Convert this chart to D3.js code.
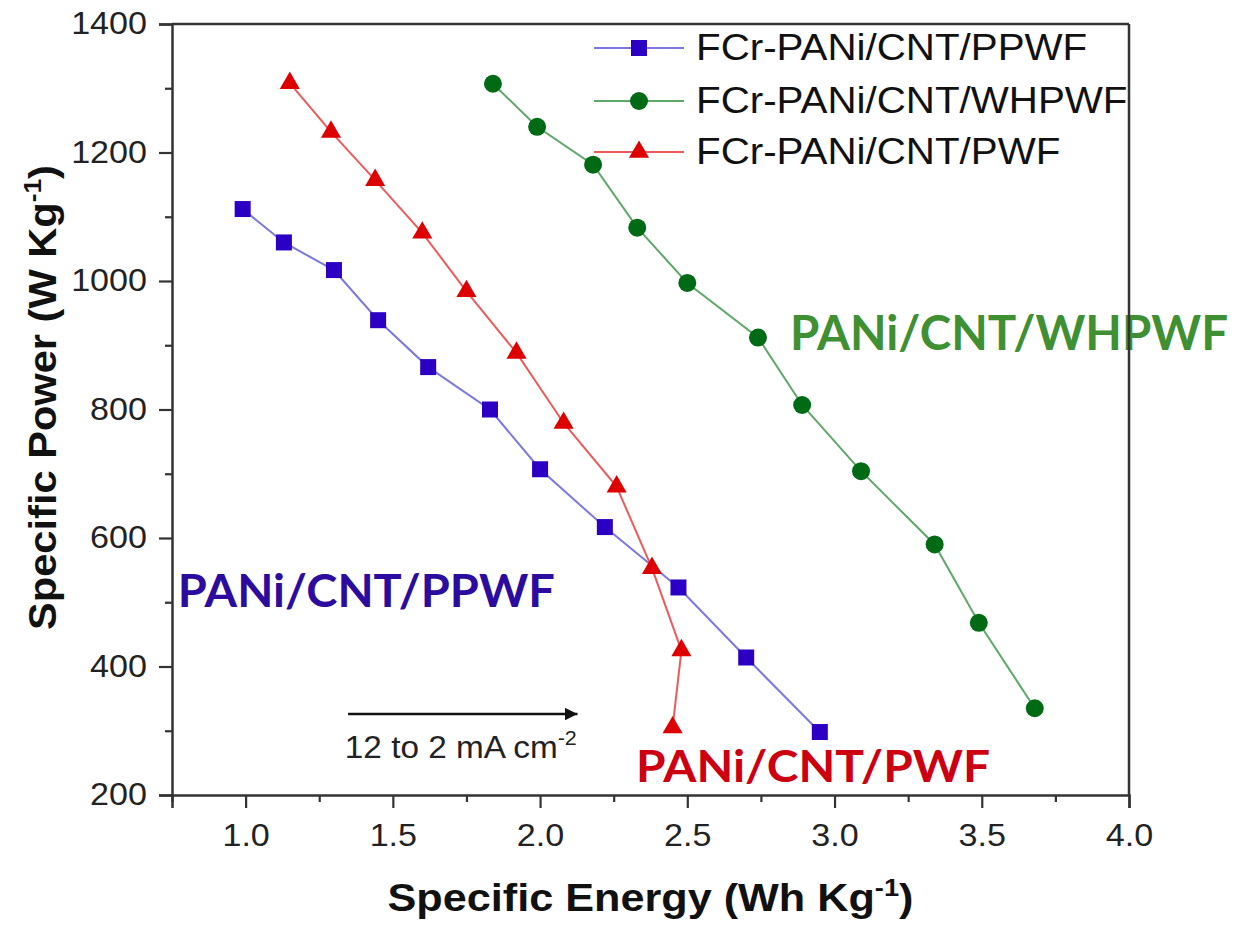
<!DOCTYPE html>
<html>
<head>
<meta charset="utf-8">
<script src="https://cdn.jsdelivr.net/npm/d3@7"></script>
<style>
  body { margin: 0; background: #fff; }
  svg { display: block; }
</style>
</head>
<body>
<svg id="chart"></svg>
<script>
// Data (specific energy Wh/kg vs specific power W/kg)
const ppwfEnergy  = [0.99, 1.13, 1.30, 1.45, 1.62, 1.83, 2.00, 2.22, 2.47, 2.70, 2.95];
const ppwfPower   = [1112, 1060, 1017, 939, 866, 800, 707, 617, 523, 414, 298];
const whpwfEnergy = [1.84, 1.99, 2.18, 2.33, 2.50, 2.74, 2.89, 3.09, 3.34, 3.49, 3.68];
const whpwfPower  = [1307, 1240, 1181, 1083, 997, 912, 807, 704, 590, 468, 335];
const pwfEnergy   = [1.15, 1.29, 1.44, 1.60, 1.75, 1.92, 2.08, 2.26, 2.38, 2.48, 2.45];
const pwfPower    = [1308, 1232, 1157, 1075, 984, 888, 779, 680, 553, 425, 305];

const seriesNames = ['FCr-PANi/CNT/PPWF', 'FCr-PANi/CNT/WHPWF', 'FCr-PANi/CNT/PWF'];
const xTicks = [1.0, 1.5, 2.0, 2.5, 3.0, 3.5, 4.0];
const xMinorTicks = [0.75, 1.25, 1.75, 2.25, 2.75, 3.25, 3.75];
const yTicks = [200, 400, 600, 800, 1000, 1200, 1400];
const yMinorTicks = [300, 500, 700, 900, 1100, 1300];

const width = 1235, height = 932;
const margin = { top: 24, right: 106, bottom: 137, left: 172 };
const innerW = width - margin.left - margin.right;
const innerH = height - margin.top - margin.bottom;

const svg = d3.select('#chart').attr('width', width).attr('height', height);
const g = svg.append('g').attr('transform', `translate(${margin.left},${margin.top})`);

const x = d3.scaleLinear().domain([0.75, 4.0]).range([0, innerW]);
const y = d3.scaleLinear().domain([200, 1400]).range([innerH, 0]);

const FONT = '"Liberation Sans", Arial, Helvetica, sans-serif';
const ANNOT_FONT = 'Lato, "Open Sans", sans-serif';

// widen text a bit, the source image is stretched horizontally
function stretch(sel, k) {
  sel.each(function () {
    const w = this.getComputedTextLength();
    d3.select(this).attr('textLength', w * k).attr('lengthAdjust', 'spacingAndGlyphs');
  });
}

const series = [
  { name: seriesNames[0], xs: ppwfEnergy, ys: ppwfPower, line: '#7b78e2', fill: '#2b00c4', symbol: d3.symbolSquare, size: 256 },
  { name: seriesNames[1], xs: whpwfEnergy, ys: whpwfPower, line: '#5ea86a', fill: '#006a14', symbol: d3.symbolCircle, size: 254 },
  { name: seriesNames[2], xs: pwfEnergy, ys: pwfPower, line: '#ec5a5a', fill: '#de0000', symbol: d3.symbolTriangle, size: 175 }
];

// axes
g.append('g').attr('transform', `translate(0,${innerH})`)
  .call(d3.axisBottom(x).tickValues(xTicks).tickFormat(d3.format('.1f')).tickSize(13).tickPadding(16));
g.append('g').attr('transform', `translate(0,${innerH})`)
  .call(d3.axisBottom(x).tickValues(xMinorTicks).tickFormat('').tickSize(7))
  .call(a => a.select('.domain').remove());
g.append('g')
  .call(d3.axisLeft(y).tickValues(yTicks).tickFormat(d3.format('d')).tickSize(13).tickPadding(12));
g.append('g')
  .call(d3.axisLeft(y).tickValues(yMinorTicks).tickFormat('').tickSize(7))
  .call(a => a.select('.domain').remove());

g.selectAll('.domain').attr('stroke', '#333').attr('stroke-width', 2.5);
g.selectAll('.tick line').attr('stroke', '#333').attr('stroke-width', 2.2);
g.selectAll('.tick text').attr('font-family', FONT).attr('font-size', 31).attr('fill', '#222')
  .call(stretch, 1.1);

// lines and markers
const line = d3.line().x(d => x(d[0])).y(d => y(d[1]));
series.forEach(s => {
  const pts = s.xs.map((v, i) => [v, s.ys[i]]);
  g.append('path').datum(pts)
    .attr('d', line).attr('fill', 'none')
    .attr('stroke', s.line).attr('stroke-width', 2);
  g.selectAll(null).data(pts).join('path')
    .attr('transform', d => `translate(${x(d[0])},${y(d[1])})`)
    .attr('d', d3.symbol(s.symbol, s.size))
    .attr('fill', s.fill);
});

// legend
const legend = g.append('g').attr('transform', 'translate(422,24)');
series.forEach((s, i) => {
  const row = legend.append('g').attr('transform', `translate(0,${[0, 53, 104][i]})`);
  row.append('line').attr('x1', 0).attr('x2', 90).attr('stroke', s.line).attr('stroke-width', 2);
  row.append('path').attr('transform', 'translate(45,0)').attr('d', d3.symbol(s.symbol, s.size)).attr('fill', s.fill);
  row.append('text').attr('x', 102).attr('y', 12)
    .attr('font-family', FONT).attr('font-size', 36).attr('fill', '#111')
    .text(s.name).call(stretch, 1.12);
});

// arrow + current density label
svg.append('defs').append('marker')
  .attr('id', 'head').attr('viewBox', '0 0 10 10').attr('refX', 10).attr('refY', 5)
  .attr('markerWidth', 9).attr('markerHeight', 5).attr('markerUnits', 'strokeWidth')
  .attr('orient', 'auto')
  .append('path').attr('d', 'M0,0L10,5L0,10Z').attr('fill', '#111');
g.append('line')
  .attr('x1', x(1.348)).attr('x2', x(2.127)).attr('y1', y(326)).attr('y2', y(326))
  .attr('stroke', '#111').attr('stroke-width', 2.5).attr('marker-end', 'url(#head)');
const cd = g.append('text').attr('x', x(1.337)).attr('y', y(258))
  .attr('font-family', FONT).attr('font-size', 31).attr('fill', '#222')
  .attr('textLength', 232).attr('lengthAdjust', 'spacingAndGlyphs');
cd.append('tspan').text('12 to 2 mA cm');
cd.append('tspan').attr('dy', -13).attr('font-size', 20).text('-2');

// sample annotations
const annotations = [
  { text: 'PANi/CNT/WHPWF', x: 2.849, y: 893, size: 48, len: 438, color: '#3f8f33' },
  { text: 'PANi/CNT/PPWF', x: 0.770, y: 493, size: 45, len: 377, color: '#2c0c9e' },
  { text: 'PANi/CNT/PWF', x: 2.326, y: 220, size: 43, len: 354, color: '#cc0010' }
];
g.selectAll(null).data(annotations).join('text')
  .attr('x', d => x(d.x)).attr('y', d => y(d.y))
  .attr('font-family', ANNOT_FONT).attr('font-weight', 700)
  .attr('font-size', d => d.size).attr('fill', d => d.color)
  .attr('textLength', d => d.len).attr('lengthAdjust', 'spacingAndGlyphs')
  .text(d => d.text);

// frame (top & right), drawn over the text
g.append('line').attr('x1', 0).attr('x2', innerW).attr('y1', 0).attr('y2', 0)
  .attr('stroke', '#333').attr('stroke-width', 2.5);
g.append('line').attr('x1', innerW).attr('x2', innerW).attr('y1', 0).attr('y2', innerH)
  .attr('stroke', '#333').attr('stroke-width', 2.5);

// axis titles
const xt = svg.append('text')
  .attr('x', margin.left + innerW / 2).attr('y', 911).attr('text-anchor', 'middle')
  .attr('font-family', FONT).attr('font-weight', 700).attr('font-size', 38).attr('fill', '#111')
  .attr('textLength', 526).attr('lengthAdjust', 'spacingAndGlyphs');
xt.append('tspan').text('Specific Energy (Wh Kg');
xt.append('tspan').attr('dy', -15).attr('font-size', 24).text('-1');
xt.append('tspan').attr('dy', 15).text(')');

const yt = svg.append('text')
  .attr('transform', `translate(56,${margin.top + innerH / 2 - 12}) rotate(-90)`)
  .attr('text-anchor', 'middle')
  .attr('font-family', FONT).attr('font-weight', 700).attr('font-size', 38).attr('fill', '#111')
  .attr('textLength', 465).attr('lengthAdjust', 'spacingAndGlyphs');
yt.append('tspan').text('Specific Power (W Kg');
yt.append('tspan').attr('dy', -15).attr('font-size', 24).text('-1');
yt.append('tspan').attr('dy', 15).text(')');
</script>
</body>
</html>
